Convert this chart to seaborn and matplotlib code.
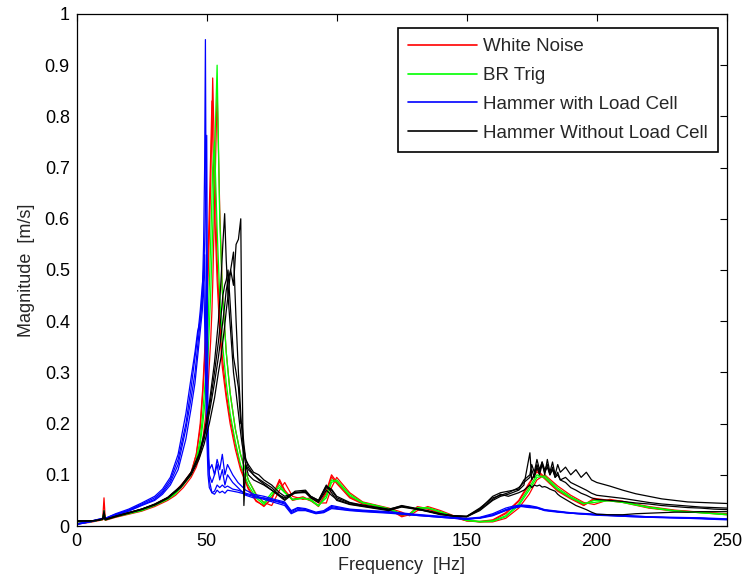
import matplotlib

matplotlib.use("Agg")
import matplotlib.pyplot as plt
import pandas as pd
import seaborn as sns

# frequency grids (Hz) for each excitation type
wn_freq = [0, 5, 10, 10.5, 11, 15, 20, 25, 30, 35, 38, 41, 44, 46, 47.5, 48.5, 49.5, 50.5, 51.5, 52,
           52.3, 53, 54, 55, 56, 57.5, 59, 61, 63, 66, 69, 72, 75, 78, 80, 83, 87, 90, 93, 96,
           98, 100, 105, 110, 115, 120, 125, 128, 131, 135, 140, 145, 150, 155, 160, 165, 170, 174, 177, 180,
           185, 190, 195, 199, 205, 210, 220, 230, 240, 250]
hw_freq = [0, 5, 10, 10.5, 11, 15, 20, 25, 30, 33, 36, 39, 42, 44, 45.5, 46.5, 47.5, 48.3, 48.8, 49.2,
           49.5, 50, 50.5, 51, 52, 53, 54, 55, 56, 57, 58, 60, 62, 65, 68, 72, 76, 80, 82.5, 85,
           88, 92, 95, 98, 100, 105, 110, 120, 130, 140, 150, 155, 160, 165, 168, 171, 174, 177, 180, 185,
           190, 200, 210, 220, 230, 240, 250]
hwo_freq = [0, 5, 8, 10, 10.5, 11, 15, 20, 25, 30, 35, 40, 44, 47, 49, 51, 53, 54.5, 55.5, 56.2,
            56.9, 57.5, 58.2, 59.2, 60.3, 61.3, 62.2, 63.1, 63.6, 64.3, 65, 66, 68, 70, 72, 75, 78, 80, 84, 88,
            90, 93, 96, 98, 100, 105, 110, 115, 120, 125, 130, 135, 140, 145, 150, 155, 160, 163, 166, 170,
            172, 174.3, 175, 176, 177, 178, 179, 180, 181, 182, 183, 184, 185, 186, 188, 190, 192, 194, 196, 198,
            200, 205, 210, 215, 220, 225, 230, 235, 240, 245, 250]

# White Noise runs (m/s)
wn_run1 = [0.004, 0.008, 0.014, 0.055, 0.012, 0.02, 0.026, 0.032, 0.042, 0.055, 0.068, 0.085, 0.105, 0.14, 0.19, 0.26, 0.35, 0.48, 0.66, 0.79,
           0.875, 0.72, 0.52, 0.4, 0.33, 0.26, 0.21, 0.16, 0.115, 0.075, 0.05, 0.038, 0.055, 0.091, 0.07, 0.052, 0.057, 0.05, 0.038, 0.068,
           0.1, 0.086, 0.057, 0.044, 0.04, 0.033, 0.018, 0.022, 0.038, 0.034, 0.026, 0.018, 0.01, 0.008, 0.011, 0.024, 0.048, 0.08, 0.11, 0.095,
           0.07, 0.055, 0.041, 0.054, 0.05, 0.048, 0.036, 0.03, 0.027, 0.023]
wn_run2 = [0.005, 0.008, 0.013, 0.03, 0.012, 0.019, 0.025, 0.031, 0.041, 0.054, 0.066, 0.083, 0.103, 0.14, 0.2, 0.27, 0.37, 0.52, 0.72, 0.83,
           0.76, 0.62, 0.48, 0.38, 0.31, 0.25, 0.2, 0.15, 0.11, 0.072, 0.048, 0.04, 0.052, 0.087, 0.068, 0.05, 0.055, 0.049, 0.04, 0.064,
           0.096, 0.083, 0.055, 0.043, 0.039, 0.032, 0.02, 0.024, 0.036, 0.033, 0.025, 0.017, 0.01, 0.009, 0.012, 0.026, 0.05, 0.084, 0.106, 0.092,
           0.068, 0.053, 0.04, 0.052, 0.049, 0.046, 0.035, 0.029, 0.026, 0.022]
wn_run3 = [0.004, 0.007, 0.012, 0.02, 0.011, 0.017, 0.023, 0.029, 0.038, 0.05, 0.06, 0.075, 0.095, 0.115, 0.14, 0.17, 0.21, 0.27, 0.36, 0.42,
           0.47, 0.62, 0.85, 0.62, 0.46, 0.34, 0.26, 0.19, 0.14, 0.09, 0.062, 0.046, 0.04, 0.07, 0.085, 0.058, 0.052, 0.055, 0.045, 0.045,
           0.075, 0.095, 0.065, 0.047, 0.041, 0.035, 0.027, 0.02, 0.03, 0.038, 0.03, 0.02, 0.012, 0.008, 0.008, 0.015, 0.035, 0.062, 0.09, 0.1,
           0.078, 0.06, 0.046, 0.042, 0.052, 0.048, 0.038, 0.031, 0.027, 0.024]

# BR Trig runs
br_run1 = [0.004, 0.008, 0.013, 0.03, 0.012, 0.018, 0.024, 0.03, 0.04, 0.052, 0.063, 0.08, 0.1, 0.125, 0.16, 0.2, 0.25, 0.33, 0.45, 0.53,
           0.58, 0.72, 0.9, 0.6, 0.46, 0.34, 0.26, 0.19, 0.14, 0.09, 0.06, 0.045, 0.065, 0.075, 0.065, 0.052, 0.054, 0.052, 0.04, 0.055,
           0.085, 0.09, 0.062, 0.046, 0.04, 0.034, 0.024, 0.022, 0.034, 0.036, 0.028, 0.019, 0.011, 0.008, 0.009, 0.018, 0.04, 0.07, 0.095, 0.098,
           0.074, 0.057, 0.044, 0.046, 0.05, 0.047, 0.037, 0.03, 0.026, 0.023]
br_run2 = [0.005, 0.008, 0.013, 0.025, 0.012, 0.019, 0.025, 0.031, 0.041, 0.053, 0.065, 0.082, 0.103, 0.13, 0.17, 0.22, 0.29, 0.39, 0.55, 0.64,
           0.7, 0.75, 0.58, 0.45, 0.36, 0.28, 0.22, 0.165, 0.12, 0.08, 0.055, 0.042, 0.06, 0.08, 0.066, 0.051, 0.055, 0.05, 0.039, 0.06,
           0.09, 0.087, 0.059, 0.045, 0.04, 0.033, 0.022, 0.023, 0.036, 0.035, 0.027, 0.018, 0.011, 0.009, 0.01, 0.02, 0.043, 0.075, 0.1, 0.094,
           0.071, 0.055, 0.043, 0.05, 0.049, 0.046, 0.036, 0.029, 0.026, 0.022]

# Hammer with Load Cell runs
hw_run1 = [0.003, 0.008, 0.014, 0.016, 0.014, 0.022, 0.03, 0.041, 0.052, 0.065, 0.085, 0.12, 0.19, 0.25, 0.3, 0.35, 0.4, 0.45, 0.55, 0.7,
           0.95, 0.35, 0.15, 0.1, 0.085, 0.1, 0.12, 0.09, 0.11, 0.08, 0.1, 0.085, 0.075, 0.06, 0.055, 0.055, 0.05, 0.045, 0.028, 0.035,
           0.032, 0.026, 0.028, 0.038, 0.036, 0.032, 0.03, 0.027, 0.022, 0.018, 0.014, 0.015, 0.02, 0.03, 0.035, 0.038, 0.036, 0.035, 0.03, 0.027,
           0.025, 0.021, 0.019, 0.017, 0.016, 0.015, 0.013]
hw_run2 = [0.004, 0.009, 0.015, 0.017, 0.015, 0.023, 0.031, 0.043, 0.055, 0.068, 0.09, 0.13, 0.2, 0.27, 0.33, 0.37, 0.42, 0.47, 0.5, 0.55,
           0.62, 0.763, 0.2, 0.09, 0.065, 0.062, 0.07, 0.065, 0.068, 0.064, 0.07, 0.068, 0.066, 0.062, 0.058, 0.052, 0.046, 0.04, 0.024, 0.03,
           0.03, 0.024, 0.026, 0.034, 0.033, 0.03, 0.028, 0.025, 0.021, 0.017, 0.013, 0.016, 0.022, 0.032, 0.037, 0.04, 0.038, 0.036, 0.031, 0.028,
           0.025, 0.022, 0.02, 0.018, 0.016, 0.014, 0.012]
hw_run3 = [0.004, 0.009, 0.015, 0.016, 0.015, 0.024, 0.033, 0.045, 0.058, 0.072, 0.095, 0.14, 0.22, 0.29, 0.34, 0.38, 0.4, 0.45, 0.48, 0.53,
           0.42, 0.25, 0.14, 0.11, 0.12, 0.1, 0.13, 0.11, 0.14, 0.1, 0.12, 0.1, 0.085, 0.07, 0.062, 0.058, 0.052, 0.047, 0.03, 0.036,
           0.034, 0.027, 0.03, 0.04, 0.038, 0.033, 0.031, 0.028, 0.023, 0.019, 0.015, 0.017, 0.024, 0.035, 0.039, 0.041, 0.04, 0.037, 0.032, 0.029,
           0.026, 0.023, 0.021, 0.018, 0.017, 0.016, 0.014]
hw_run4 = [0.003, 0.008, 0.014, 0.015, 0.014, 0.021, 0.029, 0.04, 0.05, 0.062, 0.08, 0.11, 0.17, 0.23, 0.28, 0.33, 0.38, 0.42, 0.49, 0.4,
           0.3, 0.18, 0.1, 0.075, 0.065, 0.068, 0.08, 0.075, 0.08, 0.075, 0.078, 0.072, 0.07, 0.064, 0.06, 0.054, 0.049, 0.043, 0.026, 0.032,
           0.031, 0.025, 0.027, 0.036, 0.034, 0.031, 0.029, 0.026, 0.021, 0.017, 0.013, 0.016, 0.021, 0.031, 0.036, 0.039, 0.037, 0.035, 0.031, 0.028,
           0.025, 0.022, 0.019, 0.017, 0.016, 0.015, 0.013]

# Hammer Without Load Cell runs
hwo_run1 = [0.01, 0.01, 0.011, 0.014, 0.03, 0.013, 0.019, 0.026, 0.033, 0.043, 0.056, 0.078, 0.105, 0.14, 0.18, 0.24, 0.32, 0.4, 0.48, 0.55,
            0.61, 0.52, 0.45, 0.38, 0.3, 0.26, 0.22, 0.18, 0.16, 0.14, 0.12, 0.11, 0.1, 0.092, 0.085, 0.075, 0.06, 0.055, 0.064, 0.066,
            0.056, 0.048, 0.075, 0.07, 0.055, 0.045, 0.04, 0.036, 0.032, 0.04, 0.035, 0.03, 0.024, 0.02, 0.018, 0.03, 0.05, 0.058, 0.062, 0.07,
            0.08, 0.143, 0.09, 0.1, 0.12, 0.105, 0.125, 0.1, 0.13, 0.105, 0.125, 0.1, 0.12, 0.105, 0.115, 0.1, 0.11, 0.095, 0.105, 0.09,
            0.085, 0.078, 0.07, 0.063, 0.058, 0.053, 0.05, 0.047, 0.046, 0.045, 0.044]
hwo_run2 = [0.009, 0.01, 0.011, 0.013, 0.02, 0.012, 0.018, 0.025, 0.032, 0.041, 0.054, 0.075, 0.1, 0.13, 0.16, 0.2, 0.25, 0.3, 0.33, 0.36,
            0.39, 0.42, 0.45, 0.5, 0.47, 0.55, 0.56, 0.6, 0.3, 0.04, 0.12, 0.1, 0.09, 0.085, 0.08, 0.07, 0.06, 0.052, 0.068, 0.07,
            0.058, 0.05, 0.08, 0.065, 0.05, 0.042, 0.038, 0.034, 0.03, 0.038, 0.034, 0.028, 0.022, 0.02, 0.019, 0.035, 0.055, 0.06, 0.065, 0.075,
            0.085, 0.095, 0.11, 0.095, 0.115, 0.1, 0.12, 0.105, 0.115, 0.1, 0.11, 0.095, 0.105, 0.09, 0.095, 0.085, 0.08, 0.075, 0.07, 0.064,
            0.06, 0.057, 0.054, 0.05, 0.046, 0.043, 0.041, 0.039, 0.037, 0.036, 0.035]
hwo_run3 = [0.01, 0.01, 0.011, 0.014, 0.025, 0.013, 0.019, 0.026, 0.033, 0.042, 0.055, 0.077, 0.103, 0.135, 0.17, 0.22, 0.28, 0.33, 0.37, 0.4,
            0.43, 0.46, 0.48, 0.5, 0.535, 0.4, 0.3, 0.22, 0.18, 0.15, 0.13, 0.115, 0.1, 0.09, 0.082, 0.07, 0.058, 0.05, 0.066, 0.065,
            0.055, 0.046, 0.07, 0.06, 0.052, 0.043, 0.039, 0.035, 0.031, 0.037, 0.033, 0.029, 0.023, 0.019, 0.018, 0.032, 0.052, 0.062, 0.058, 0.065,
            0.07, 0.08, 0.075, 0.08, 0.078, 0.08, 0.076, 0.077, 0.075, 0.072, 0.07, 0.068, 0.062, 0.058, 0.052, 0.046, 0.04, 0.036, 0.032, 0.027,
            0.023, 0.022, 0.022, 0.024, 0.025, 0.026, 0.027, 0.027, 0.028, 0.028, 0.028]
hwo_run4 = [0.01, 0.01, 0.011, 0.014, 0.018, 0.013, 0.019, 0.026, 0.033, 0.042, 0.055, 0.077, 0.104, 0.138, 0.175, 0.23, 0.3, 0.36, 0.41, 0.45,
            0.47, 0.48, 0.5, 0.42, 0.33, 0.3, 0.27, 0.2, 0.2, 0.16, 0.13, 0.12, 0.105, 0.1, 0.09, 0.08, 0.065, 0.058, 0.065, 0.068,
            0.058, 0.05, 0.078, 0.072, 0.058, 0.046, 0.041, 0.037, 0.033, 0.039, 0.034, 0.029, 0.023, 0.02, 0.019, 0.033, 0.058, 0.065, 0.068, 0.072,
            0.09, 0.1, 0.12, 0.105, 0.13, 0.11, 0.125, 0.11, 0.12, 0.1, 0.115, 0.095, 0.1, 0.09, 0.085, 0.075, 0.07, 0.064, 0.06, 0.055,
            0.052, 0.05, 0.048, 0.045, 0.043, 0.04, 0.038, 0.036, 0.035, 0.033, 0.032]

sources = ["White Noise", "BR Trig", "Hammer with Load Cell", "Hammer Without Load Cell"]
colors = ["#ff0000", "#00ff00", "#0000ff", "#000000"]

runs = [
    ("White Noise", wn_freq, wn_run1), ("White Noise", wn_freq, wn_run2), ("White Noise", wn_freq, wn_run3),
    ("BR Trig", wn_freq, br_run1), ("BR Trig", wn_freq, br_run2),
    ("Hammer with Load Cell", hw_freq, hw_run1), ("Hammer with Load Cell", hw_freq, hw_run2),
    ("Hammer with Load Cell", hw_freq, hw_run3), ("Hammer with Load Cell", hw_freq, hw_run4),
    ("Hammer Without Load Cell", hwo_freq, hwo_run1), ("Hammer Without Load Cell", hwo_freq, hwo_run2),
    ("Hammer Without Load Cell", hwo_freq, hwo_run3), ("Hammer Without Load Cell", hwo_freq, hwo_run4),
]

frames = []
for i, (src, f, m) in enumerate(runs):
    frames.append(pd.DataFrame({"freq": f, "mag": m, "source": src, "run": i}))
df = pd.concat(frames, ignore_index=True)

sns.set_style("white")
plt.rcParams["font.family"] = ["Liberation Sans", "DejaVu Sans"]

fig = plt.figure(figsize=(7.44, 5.80), dpi=100)
ax = fig.add_axes([0.1031, 0.0931, 0.8737, 0.8828])

sns.lineplot(data=df, x="freq", y="mag", hue="source", hue_order=sources, units="run",
             estimator=None, sort=False, palette=dict(zip(sources, colors)),
             linewidth=0.9, ax=ax)

ax.set_xlim(0, 250)
ax.set_ylim(0, 1)
ax.set_xticks([0, 50, 100, 150, 200, 250])
ax.set_yticks([0, 0.1, 0.2, 0.3, 0.4, 0.5, 0.6, 0.7, 0.8, 0.9, 1])
ax.set_yticklabels(["0", "0.1", "0.2", "0.3", "0.4", "0.5", "0.6", "0.7", "0.8", "0.9", "1"])
ax.tick_params(direction="in", top=True, right=True, length=5, width=0.8, labelsize=13,
               colors="black", pad=5)
for s in ax.spines.values():
    s.set_color("black")
    s.set_linewidth(0.9)
ax.set_xlabel("Frequency  [Hz]", fontsize=13, labelpad=5)
ax.set_ylabel("Magnitude  [m/s]", fontsize=13, labelpad=7)

handles, labels = ax.get_legend_handles_labels()
leg = ax.legend(handles, labels, loc="upper right", bbox_to_anchor=(0.9866, 0.9727),
                fancybox=False, frameon=True, edgecolor="black", framealpha=1,
                fontsize=13.5, handlelength=3.7, handletextpad=0.3, borderpad=0.55,
                labelspacing=0.62, borderaxespad=0)
leg.get_frame().set_linewidth(1.2)
for ln in leg.get_lines():
    ln.set_linewidth(1.2)

fig.savefig("out.png", dpi=100)
